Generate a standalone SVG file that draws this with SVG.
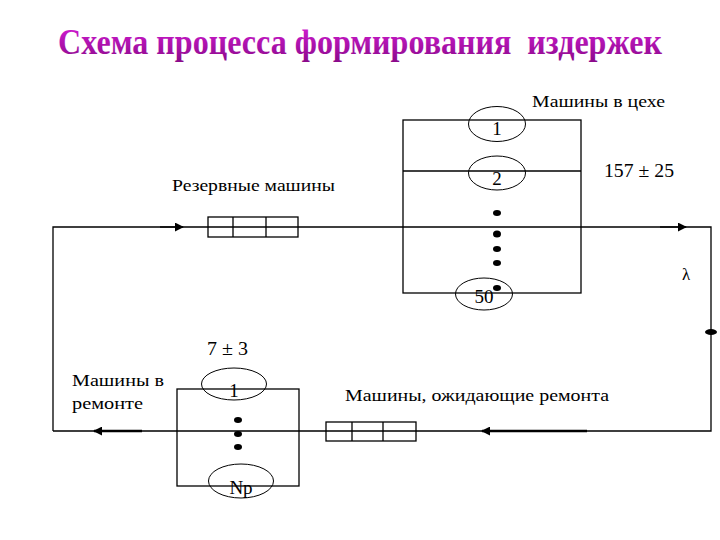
<svg xmlns="http://www.w3.org/2000/svg" width="720" height="540" viewBox="0 0 720 540">
<defs>
<style>
.ln{stroke:#000;stroke-width:1.3;fill:none}
.thick{stroke:#000;stroke-width:2.6;fill:none}
.el{stroke:#000;stroke-width:1;fill:none}
.t{font-family:'Liberation Serif','DejaVu Serif',serif;font-size:17px;fill:#000}
.n{font-family:'Liberation Serif','DejaVu Serif',serif;font-size:19px;fill:#000;text-anchor:middle}
.dot{fill:#000}
.title{font-family:'Liberation Serif','DejaVu Serif',serif;font-size:35px;font-weight:bold;fill:url(#tg)}
</style>
<linearGradient id="tg" x1="0" y1="0" x2="0" y2="1">
<stop offset="0" stop-color="#D81CD8"/>
<stop offset="1" stop-color="#8A0A8A"/>
</linearGradient>
<marker id="ar" viewBox="0 0 10 10" refX="9" refY="5" markerWidth="9" markerHeight="9" markerUnits="userSpaceOnUse" orient="auto">
<path d="M0,0 L10,5 L0,10 z" fill="#000"/>
</marker>
</defs>
<rect width="720" height="540" fill="#fff"/>
<text class="title" x="58" y="54" textLength="604" lengthAdjust="spacingAndGlyphs" style="white-space:pre">Схема процесса формирования  издержек</text>

<g id="connectors">
<path class="ln" d="M53,431 L53,227 L711,227 L711,431 L53,431"/>
<line class="ln" x1="160" y1="227" x2="183" y2="227" marker-end="url(#ar)"/>
<line class="ln" x1="660" y1="227" x2="686" y2="227" marker-end="url(#ar)"/>
<line class="thick" x1="587" y1="431" x2="482" y2="431" marker-end="url(#ar)"/>
<line class="thick" x1="142" y1="431" x2="94" y2="431" marker-end="url(#ar)"/>
<ellipse class="dot" cx="711" cy="332" rx="6" ry="3"/>
</g>

<g id="workshop">
<rect class="ln" x="403" y="120" width="178" height="173"/>
<line class="ln" x1="403" y1="171" x2="581" y2="171"/>
<ellipse class="el" cx="497" cy="124" rx="28.5" ry="17.5"/>
<text class="n" x="497" y="135">1</text>
<ellipse class="el" cx="497" cy="173" rx="28.5" ry="17"/>
<text class="n" x="497" y="185">2</text>
<ellipse class="el" cx="484" cy="294" rx="28.5" ry="16"/>
<text class="n" x="484" y="303">50</text>
<ellipse class="dot" cx="497" cy="213" rx="4" ry="3"/>
<ellipse class="dot" cx="497" cy="234" rx="4" ry="3.5"/>
<ellipse class="dot" cx="497" cy="249" rx="4" ry="3"/>
<ellipse class="dot" cx="497" cy="263" rx="4" ry="3"/>
<ellipse class="dot" cx="497" cy="288" rx="4" ry="3"/>
<text class="t" x="532" y="107" textLength="133" lengthAdjust="spacingAndGlyphs">Машины в цехе</text>
<text class="t" x="604" y="177" style="font-size:19px" textLength="70" lengthAdjust="spacingAndGlyphs">157 ± 25</text>
<text class="t" x="682" y="280">λ</text>
</g>

<g id="reserve">
<rect class="ln" x="208" y="217" width="90" height="20"/>
<line class="ln" x1="233" y1="217" x2="233" y2="237"/>
<line class="ln" x1="266" y1="217" x2="266" y2="237"/>
<text class="t" x="172" y="191" textLength="163" lengthAdjust="spacingAndGlyphs">Резервные машины</text>
</g>

<g id="waiting">
<rect class="ln" x="326" y="422" width="90" height="19"/>
<line class="ln" x1="352" y1="422" x2="352" y2="441"/>
<line class="ln" x1="383" y1="422" x2="383" y2="441"/>
<text class="t" x="345" y="401" textLength="264" lengthAdjust="spacingAndGlyphs">Машины, ожидающие ремонта</text>
</g>

<g id="repair">
<rect class="ln" x="177" y="389" width="122" height="97"/>
<ellipse class="el" cx="234" cy="384" rx="32.5" ry="16"/>
<text class="n" x="234" y="397">1</text>
<ellipse class="el" cx="241" cy="481" rx="32.5" ry="17"/>
<text class="n" x="241" y="494">Np</text>
<ellipse class="dot" cx="238" cy="420" rx="4" ry="3"/>
<ellipse class="dot" cx="238" cy="434" rx="4" ry="3"/>
<ellipse class="dot" cx="238" cy="447" rx="4" ry="3"/>
<text class="t" x="207" y="355" style="font-size:19px" textLength="41" lengthAdjust="spacingAndGlyphs">7 ± 3</text>
<text class="t" x="72" y="386" textLength="92" lengthAdjust="spacingAndGlyphs">Машины в</text>
<text class="t" x="72" y="409" textLength="71" lengthAdjust="spacingAndGlyphs">ремонте</text>
</g>
</svg>
